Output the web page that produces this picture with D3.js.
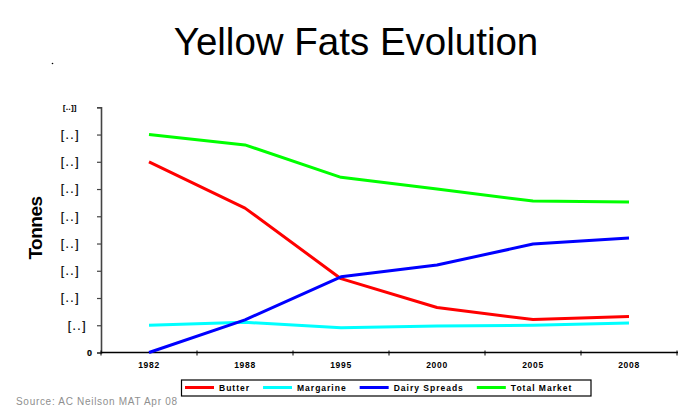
<!DOCTYPE html>
<html>
<head>
<meta charset="utf-8">
<script src="https://cdn.jsdelivr.net/npm/d3@7"></script>
<style>
  html, body { margin: 0; padding: 0; background: #fff; }
  svg { display: block; font-family: "Liberation Sans", Arial, sans-serif; }
</style>
</head>
<body>
<svg id="chart" width="691" height="407"></svg>
<script>
// Years on the category axis
const years = ["1982", "1988", "1995", "2000", "2005", "2008"];

// Volumes per year (in units of one gridline step)
const butter        = [7.0, 5.3, 2.71, 1.65, 1.21, 1.32];
const margarine     = [1.0, 1.11, 0.91, 0.97, 1.0, 1.08];
const dairySpreads  = [0.0, 1.2, 2.78, 3.21, 3.98, 4.2];
const totalMarket   = [8.0, 7.62, 6.43, 6.0, 5.56, 5.52];

// Value axis tick labels (figures withheld in the source)
const yTickValues = [0, 1, 2, 3, 4, 5, 6, 7, 8, 9];
const yTickLabels = ["0", "[..]", "[..]", "[..]", "[..]", "[..]", "[..]", "[..]", "[..]", "[..]]"];

const seriesNames  = ["Butter", "Margarine", "Dairy Spreads", "Total Market"];
const seriesColors = ["#ff0000", "#00ffff", "#0000ff", "#00ff00"];
const seriesValues = [butter, margarine, dairySpreads, totalMarket];

const svg = d3.select("#chart");

// Title
svg.append("text")
  .attr("x", 356).attr("y", 55)
  .attr("text-anchor", "middle")
  .attr("font-size", 38.5)
  .attr("fill", "#000")
  .text("Yellow Fats Evolution");

svg.append("circle").attr("cx", 52.5).attr("cy", 63.5).attr("r", 0.8).attr("fill", "#000");

// Scales
const x = d3.scaleBand().domain(years).range([101, 677]).padding(0);
const y = d3.scaleLinear().domain([0, 9]).range([352.5, 107.3]);

// Y axis
const yAxis = svg.append("g")
  .attr("transform", "translate(101,0)")
  .call(d3.axisLeft(y)
    .tickValues(yTickValues)
    .tickSize(4)
    .tickPadding(22)
    .tickFormat((d, i) => yTickLabels[i]));
yAxis.select(".domain").attr("stroke", "#444").attr("stroke-width", 1.6);
yAxis.selectAll(".tick line").attr("stroke", "#444").attr("stroke-width", 1.2);
yAxis.selectAll(".tick text")
  .attr("fill", "#000")
  .attr("font-family", "'Liberation Sans', Arial, sans-serif")
  .attr("font-size", 12)
  .attr("letter-spacing", "1.5px")
  .attr("stroke", "#000")
  .attr("stroke-width", 0.2)
  .attr("x", -21)
  .each(function (d, i) {
    const t = d3.select(this);
    if (i === 0) {
      t.attr("font-size", 9).attr("font-weight", "bold").attr("letter-spacing", "0px").attr("x", -9);
    } else if (i === 1) {
      t.attr("x", -14);
    } else if (i === yTickValues.length - 1) {
      t.attr("font-size", 7).attr("font-weight", "bold").attr("letter-spacing", "0.6px").attr("x", -24);
    }
  });

// X axis with ticks at category boundaries
const xAxisG = svg.append("g").attr("transform", "translate(0,352.5)");
xAxisG.append("line")
  .attr("x1", 101).attr("x2", 678)
  .attr("stroke", "#000").attr("stroke-width", 1.4);
const boundaries = years.map(d => x(d)).concat([x.range()[1]]);
xAxisG.selectAll(".xtick").data(boundaries).join("line")
  .attr("class", "xtick")
  .attr("x1", d => d).attr("x2", d => d)
  .attr("y1", -2).attr("y2", 3)
  .attr("stroke", "#000").attr("stroke-width", 1);
xAxisG.selectAll(".xlabel").data(years).join("text")
  .attr("class", "xlabel")
  .attr("x", d => x(d) + x.bandwidth() / 2)
  .attr("y", 15)
  .attr("text-anchor", "middle")
  .attr("font-size", 8.5)
  .attr("font-weight", "bold")
  .attr("letter-spacing", "0.7px")
  .text(d => d);

// Axis title
svg.append("text")
  .attr("transform", "translate(42,228) rotate(-90)")
  .attr("text-anchor", "middle")
  .attr("font-size", 19)
  .attr("font-weight", "bold")
  .attr("letter-spacing", "-0.5px")
  .text("Tonnes");

// Series lines
const line = d3.line()
  .x((d, i) => x(years[i]) + x.bandwidth() / 2)
  .y(d => y(d));

svg.append("g").selectAll("path")
  .data(seriesValues)
  .join("path")
  .attr("d", d => line(d))
  .attr("fill", "none")
  .attr("stroke", (d, i) => seriesColors[i])
  .attr("stroke-width", 3)
  .attr("stroke-linejoin", "round");

// Legend
const legend = svg.append("g");
legend.append("rect")
  .attr("x", 181.5).attr("y", 380)
  .attr("width", 409.5).attr("height", 16)
  .attr("fill", "#fff").attr("stroke", "#000").attr("stroke-width", 1.2);
let lx = 185;
seriesNames.forEach((name, i) => {
  legend.append("line")
    .attr("x1", lx).attr("x2", lx + 29)
    .attr("y1", 387.5).attr("y2", 387.5)
    .attr("stroke", seriesColors[i]).attr("stroke-width", 3);
  const t = legend.append("text")
    .attr("x", lx + 34).attr("y", 390.5)
    .attr("font-size", 8.5)
    .attr("font-weight", "bold")
    .attr("letter-spacing", "1px")
    .text(name);
  lx += 34 + t.node().getComputedTextLength() + 13;
});

// Source note
svg.append("text")
  .attr("x", 16).attr("y", 405)
  .attr("font-size", 10)
  .attr("letter-spacing", "0.7px")
  .attr("fill", "#8f8f8f")
  .text("Source: AC Neilson MAT Apr 08");
</script>
</body>
</html>
